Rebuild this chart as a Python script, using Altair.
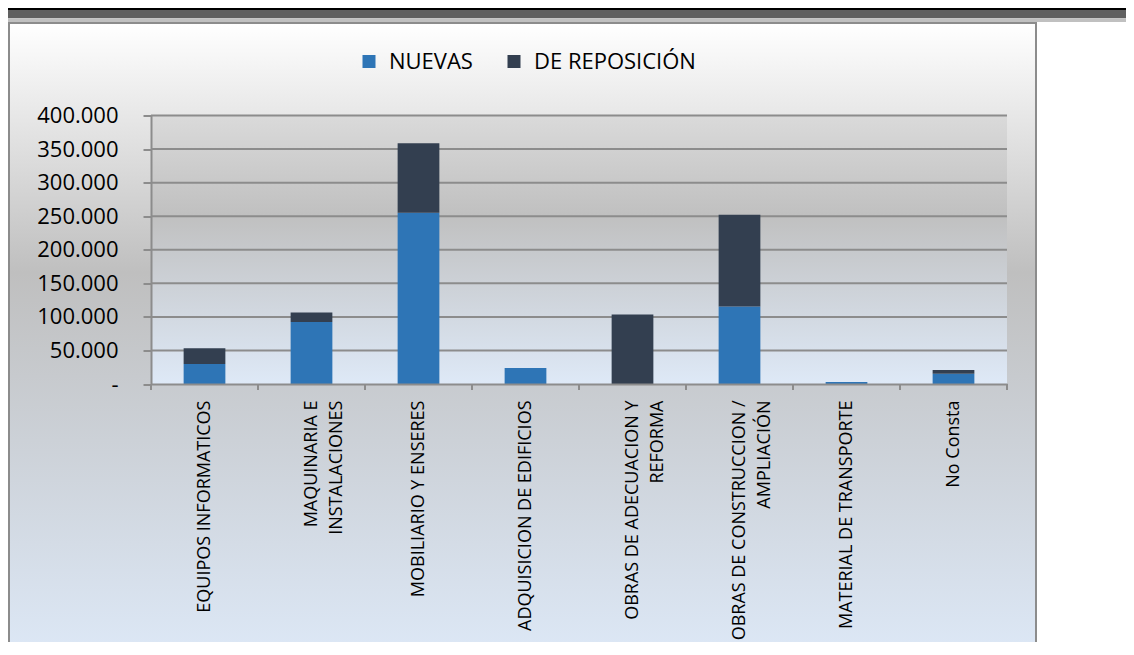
import altair as alt
import pandas as pd

categories = [
    "EQUIPOS INFORMATICOS",
    "MAQUINARIA E\nINSTALACIONES",
    "MOBILIARIO Y ENSERES",
    "ADQUISICION DE EDIFICIOS",
    "OBRAS DE ADECUACION Y\nREFORMA",
    "OBRAS DE CONSTRUCCION /\nAMPLIACIÓN",
    "MATERIAL DE TRANSPORTE",
    "No Consta",
]
nuevas = [29800, 92300, 255100, 23800, 0, 115600, 3000, 15400]
reposicion = [23300, 14400, 103700, 0, 103700, 136500, 0, 5500]
series = ["NUEVAS", "DE REPOSICIÓN"]
series_colors = ["#2E75B6", "#333F50"]
y_ticks = [0, 50000, 100000, 150000, 200000, 250000, 300000, 350000, 400000]

rows = []
for c, n, r in zip(categories, nuevas, reposicion):
    rows.append({"cat": c, "serie": series[0], "ord": 0, "value": n})
    rows.append({"cat": c, "serie": series[1], "ord": 1, "value": r})
df = pd.DataFrame(rows)
grid_df = pd.DataFrame({"value": y_ticks[1:]})
cat_df = pd.DataFrame({"cat": categories})
one = pd.DataFrame({"a": [0]})

W, H = 856, 268.5
PAD = {"left": 143, "top": 107.5, "right": 119, "bottom": 258}
BOTTOM = H + PAD["bottom"]
RIGHT = W + PAD["right"]
FONT = "Open Sans"

def grad(stops):
    return {"gradient": "linear", "x1": 0, "y1": 0, "x2": 0, "y2": 1,
            "stops": [{"offset": o, "color": c} for o, c in stops]}

outer_bg = alt.Chart(one).mark_rect(
    fill=grad([(0, "#ffffff"), (0.4, "#bfbfbf"), (1, "#dce7f5")]),
    stroke="#8c8c8c", strokeWidth=2,
).encode(x=alt.value(-142), x2=alt.value(885), y=alt.value(-92.5), y2=alt.value(BOTTOM + 5))

bar_black = alt.Chart(one).mark_rect(color="#000000").encode(
    x=alt.value(-143), x2=alt.value(RIGHT), y=alt.value(-108), y2=alt.value(-105.5))
bar_dark = alt.Chart(one).mark_rect(color="#606060").encode(
    x=alt.value(-143), x2=alt.value(RIGHT), y=alt.value(-105.5), y2=alt.value(-97.2))
bar_light = alt.Chart(one).mark_rect(color="#c0c0c0").encode(
    x=alt.value(-143), x2=alt.value(RIGHT), y=alt.value(-97.2), y2=alt.value(-93.5))

plot_bg = alt.Chart(one).mark_rect(
    fill=grad([(0, "#dadada"), (0.37, "#c0c0c0"), (1, "#dee9f7")]),
).encode(x=alt.value(0), x2=alt.value(W), y=alt.value(0), y2=alt.value(H))

yscale = alt.Scale(domain=[0, 400000], nice=False)
xscale = alt.Scale(paddingInner=0, paddingOuter=0)

y_axis = alt.Axis(values=y_ticks, grid=False, title=None,
                  labelExpr="datum.value == 0 ? '-' : replace(format(datum.value, ','), regexp(',', 'g'), '.')",
                  labelFont=FONT, labelFontSize=22, labelColor="#000000",
                  labelPadding=25, tickSize=8, tickColor="#8c8c8c", tickWidth=2,
                  domainColor="#8c8c8c", domainWidth=2, zindex=1)
x_axis = alt.Axis(labelExpr="split(datum.label, '\\n')", labelAngle=270, title=None,
                  labelAlign="right", labelBaseline="middle",
                  labelFont=FONT, labelFontSize=18, labelColor="#000000",
                  labelLineHeight=25, labelPadding=16, ticks=False, tickSize=0,
                  domainColor="#8c8c8c", domainWidth=2, labelLimit=400,
                  zindex=1)

grid = alt.Chart(grid_df).mark_rule(color="#8c8c8c", strokeWidth=2).encode(
    y=alt.Y("value:Q", scale=yscale, axis=y_axis, title=None)
)

bars = alt.Chart(df).mark_bar(width=alt.RelativeBandSize(0.39)).encode(
    x=alt.X("cat:N", sort=categories, scale=xscale, axis=x_axis, title=None),
    y=alt.Y("value:Q", stack="zero", scale=yscale, axis=y_axis, title=None),
    color=alt.Color("serie:N", scale=alt.Scale(domain=series, range=series_colors),
                    legend=alt.Legend(orient="none", legendX=207, legendY=-65,
                                      direction="horizontal", columns=2, title=None,
                                      symbolType="square", symbolSize=169,
                                      symbolStrokeWidth=0, labelFont=FONT,
                                      labelFontSize=22, labelColor="#000000",
                                      labelOffset=9, columnPadding=30, padding=0,
                                      labelLimit=400, zindex=1)),
    order=alt.Order("ord:Q"),
)

xticks0 = alt.Chart(cat_df).mark_rule(color="#8c8c8c", strokeWidth=2).encode(
    x=alt.X("cat:N", sort=categories, scale=xscale, bandPosition=0, axis=x_axis, title=None),
    y=alt.value(H), y2=alt.value(H + 6))
xticks1 = alt.Chart(cat_df).mark_rule(color="#8c8c8c", strokeWidth=2).encode(
    x=alt.X("cat:N", sort=categories, scale=xscale, bandPosition=1, axis=x_axis, title=None),
    y=alt.value(H), y2=alt.value(H + 6))

chart = alt.layer(
    outer_bg, bar_black, bar_dark, bar_light, plot_bg, grid, bars, xticks0, xticks1
).properties(
    width=W, height=H,
    autosize=alt.AutoSizeParams(type="none"),
    padding=PAD,
).configure_view(stroke=None).configure(background="#ffffff")

chart.save("out.html", embed_options={"renderer": "svg", "actions": False})
